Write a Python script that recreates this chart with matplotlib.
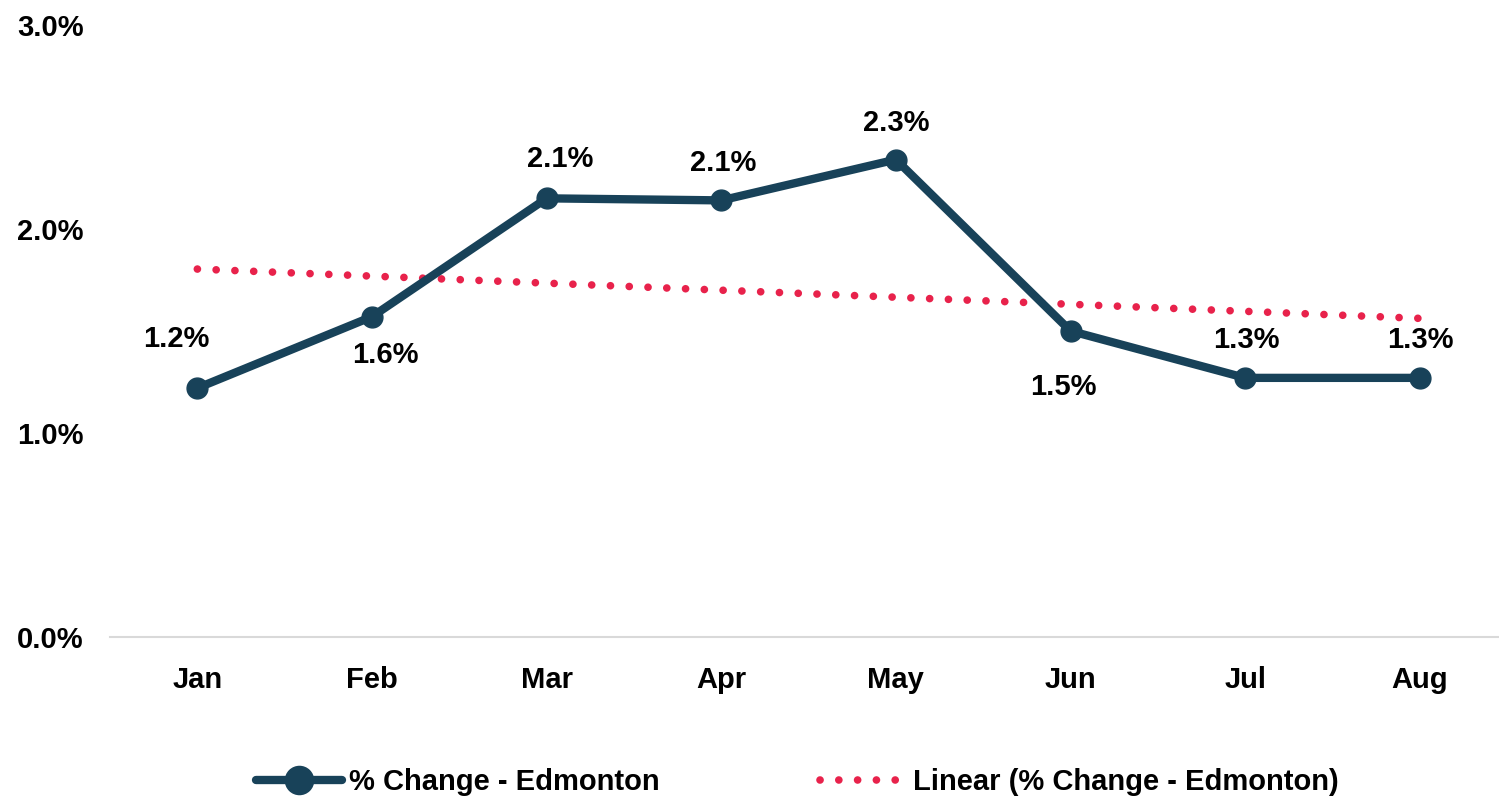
import numpy as np
from matplotlib import pyplot as plt

months = ['Jan', 'Feb', 'Mar', 'Apr', 'May', 'Jun', 'Jul', 'Aug']
pct_change = [1.22, 1.57, 2.15, 2.14, 2.34, 1.50, 1.27, 1.27]
y_ticks = [0.0, 1.0, 2.0, 3.0]

# label offsets in pixels (dx, dy), matching the placement in the original
label_offsets = [(-21, 49), (13, -38), (14, 39), (2, 37), (0, 37),
                 (-7, -56), (1, 38), (1, 38)]

navy = '#184259'
red = '#E8224B'

plt.rcParams['font.family'] = ['Liberation Sans', 'DejaVu Sans']
plt.rcParams['font.weight'] = 'bold'

fs = 21


def plot_chart():
    fig = plt.figure(figsize=(14.99, 7.99), dpi=100)
    ax = fig.add_axes([0.0734, 0.2028, 0.932, 0.766])

    x = np.arange(len(months))
    line, = ax.plot(x, pct_change, color=navy, lw=6, marker='o',
                    markersize=15, solid_capstyle='round', zorder=3,
                    label='% Change - Edmonton')

    # linear trendline like Excel's
    coef = np.polyfit(x, pct_change, 1)
    trend = np.polyval(coef, x)
    tl, = ax.plot(x, trend, color=red, lw=5.5, linestyle=(0, (0.01, 2.45)),
                  dash_capstyle='round', zorder=2,
                  label='Linear (% Change - Edmonton)')

    for xi, yi, (dx, dy) in zip(x, pct_change, label_offsets):
        ax.annotate('{:.1f}%'.format(yi), (xi, yi), xytext=(dx, dy),
                    textcoords='offset pixels', ha='center', va='center',
                    fontsize=fs, fontweight='bold', color='black')

    ax.set_xlim(-0.5, len(months) - 0.5)
    ax.set_ylim(0, 3)
    ax.set_xticks(x)
    ax.set_xticklabels(months)
    ax.set_yticks(y_ticks)
    ax.set_yticklabels(['{:.1f}%'.format(v) for v in y_ticks])
    ax.tick_params(axis='both', length=0, labelsize=fs, colors='black')
    ax.tick_params(axis='x', pad=21)
    ax.tick_params(axis='y', pad=19)

    for s in ['top', 'right', 'left']:
        ax.spines[s].set_visible(False)
    ax.spines['bottom'].set_color('#d9d9d9')
    ax.spines['bottom'].set_linewidth(1.5)

    fig.legend(handles=[line, tl], loc='center', ncol=2,
               bbox_to_anchor=(0.532, 0.021), frameon=False, fontsize=fs,
               handlelength=2.95, handletextpad=0.23, columnspacing=5.5,
               markerscale=1.35)

    fig.savefig('out.png', dpi=100)


plot_chart()
